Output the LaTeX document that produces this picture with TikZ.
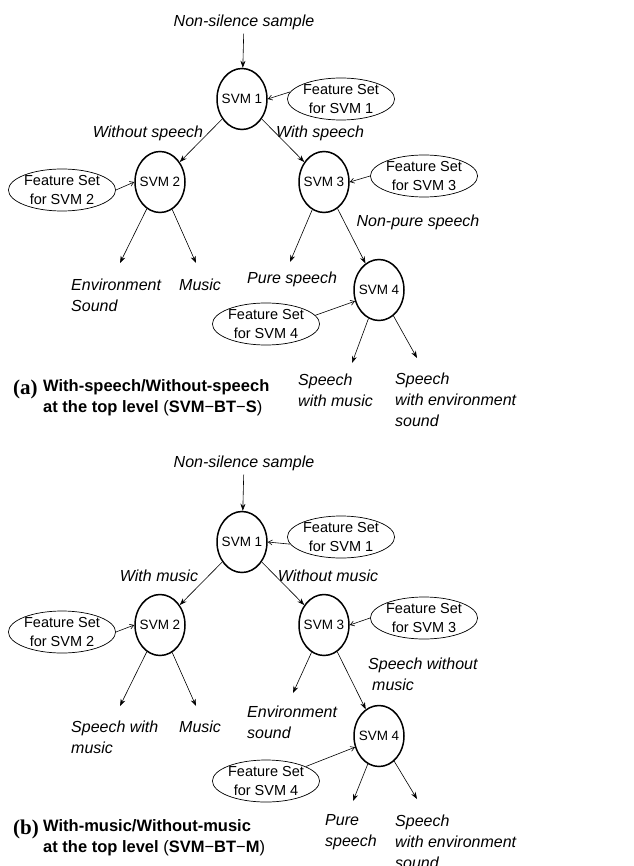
\documentclass[tikz,border=0pt]{standalone}
\usepackage{fontspec}
\setmainfont{Liberation Sans}
\newfontfamily\tagfont{Liberation Serif}
\usetikzlibrary{arrows.meta,positioning,shapes.geometric}
\tikzset{
  svm/.style={ellipse,draw,line width=1.5pt,minimum width=50pt,minimum height=61pt,
              inner sep=-8pt,font=\fontsize{13.5}{16}\selectfont},
  feat/.style={ellipse,draw,line width=0.7pt,minimum width=107pt,minimum height=42pt,
               inner xsep=0pt,inner ysep=-4pt,align=center,font=\fontsize{14.5}{19}\selectfont},
  lbl/.style={inner sep=0pt,align=left,font=\fontsize{16}{21}\selectfont\itshape},
  arr/.style={-{Stealth[length=7pt,width=5pt]},line width=0.6pt},
  farr/.style={-{Straight Barb[length=4pt,width=5pt]},line width=0.6pt},
  tag/.style={inner sep=0pt,anchor=west,font=\fontsize{21}{24}\selectfont\tagfont\bfseries},
  capt/.style={inner sep=0pt,anchor=north west,align=left,font=\fontsize{16.5}{21}\selectfont\bfseries}
}

\begin{document}
\begin{tikzpicture}[x=1pt,y=-1pt]
  \useasboundingbox (0,0) rectangle (633,866);
  % (a) speech split at the top
  \node[lbl] (na) at (244,22) {Non-silence sample};
  \node[svm] (a1) at (242,99) {SVM 1};
  \node[svm] (a2) at (160,182) {SVM 2};
  \node[svm] (a3) at (324,182) {SVM 3};
  \node[svm] (a4) at (379,290) {SVM 4};
  \node[feat] (fa1) at (341,99) {Feature Set\\for SVM 1};
  \node[feat] (fa2) at (62,190) {Feature Set\\for SVM 2};
  \node[feat] (fa3) at (424,176) {Feature Set\\for SVM 3};
  \node[feat] (fa4) at (266,324) {Feature Set\\for SVM 4};
  \node[lbl] at (148,133) {Without speech};
  \node[lbl] at (320,133) {With speech};
  \node[lbl] at (418,222) {Non-pure speech};
  \node[lbl,anchor=west] at (71,295.5) {Environment\\Sound};
  \node[lbl,anchor=west] at (179,285) {Music};
  \node[lbl,anchor=west] at (247,279) {Pure speech};
  \node[lbl,anchor=west] at (298,390) {Speech\\with music};
  \node[lbl,anchor=west] at (395,400) {Speech\\with environment\\sound};
  \coordinate (ea1) at (120,263);
  \coordinate (ea2) at (196,263);
  \coordinate (ea3) at (290,262);
  \coordinate (ea4) at (352,363);
  \coordinate (ea5) at (417,358);
  \draw[arr,shorten <=4pt] (na) -- (a1);
  \draw[arr] (a1) -- (a2);
  \draw[arr] (a1) -- (a3);
  \draw[arr] (a3) -- (a4);
  \draw[arr] (a2) -- (ea1);
  \draw[arr] (a2) -- (ea2);
  \draw[arr] (a3) -- (ea3);
  \draw[arr] (a4) -- (ea4);
  \draw[arr] (a4) -- (ea5);
  \draw[farr] (fa1.172) -- (a1.east);
  \draw[farr] (fa2.east) -- (a2.west);
  \draw[farr] (fa3.west) -- (a3.east);
  \draw[farr] (fa4.10) -- (a4.205);
  \node[tag] (ta) at (13,389) {(a)};
  \node[capt] at (43,379) {With-speech/Without-speech\\at the top level {\mdseries(}SVM{\mdseries−}BT{\mdseries−}S{\mdseries)}};

  % (b) music split at the top
  \node[lbl] (nb) at (244,463) {Non-silence sample};
  \node[svm] (b1) at (242,542) {SVM 1};
  \node[svm] (b2) at (160,625) {SVM 2};
  \node[svm] (b3) at (324,625) {SVM 3};
  \node[svm] (b4) at (379,736) {SVM 4};
  \node[feat] (fb1) at (341,537) {Feature Set\\for SVM 1};
  \node[feat] (fb2) at (62,632) {Feature Set\\for SVM 2};
  \node[feat] (fb3) at (424,618) {Feature Set\\for SVM 3};
  \node[feat] (fb4) at (266,781) {Feature Set\\for SVM 4};
  \node[lbl] at (159,576) {With music};
  \node[lbl] at (328,576) {Without music};
  \node[lbl,anchor=west] at (368,674.5) {Speech without\\\hspace{4pt}music};
  \node[lbl,anchor=west] at (71,737.5) {Speech with\\music};
  \node[lbl,anchor=west] at (179,727) {Music};
  \node[lbl,anchor=west] at (247,722.5) {Environment\\sound};
  \node[lbl,anchor=west] at (325,832) {Pure\\speech};
  \node[lbl,anchor=west] at (395,842) {Speech\\with environment\\sound};
  \coordinate (eb1) at (120,706);
  \coordinate (eb2) at (196,706);
  \coordinate (eb3) at (293,693);
  \coordinate (eb4) at (353,801);
  \coordinate (eb5) at (417,799);
  \draw[arr,shorten <=4pt] (nb) -- (b1);
  \draw[arr] (b1) -- (b2);
  \draw[arr] (b1) -- (b3);
  \draw[arr] (b3) -- (b4);
  \draw[arr] (b2) -- (eb1);
  \draw[arr] (b2) -- (eb2);
  \draw[arr] (b3) -- (eb3);
  \draw[arr] (b4) -- (eb4);
  \draw[arr] (b4) -- (eb5);
  \draw[farr] (fb1.188) -- (b1.east);
  \draw[farr] (fb2.east) -- (b2.west);
  \draw[farr] (fb3.west) -- (b3.east);
  \draw[farr] (fb4.20) -- (b4.205);
  \node[tag] (tb) at (13,829) {(b)};
  \node[capt] at (43,819) {With-music/Without-music\\at the top level {\mdseries(}SVM{\mdseries−}BT{\mdseries−}M{\mdseries)}};
\end{tikzpicture}
\end{document}
